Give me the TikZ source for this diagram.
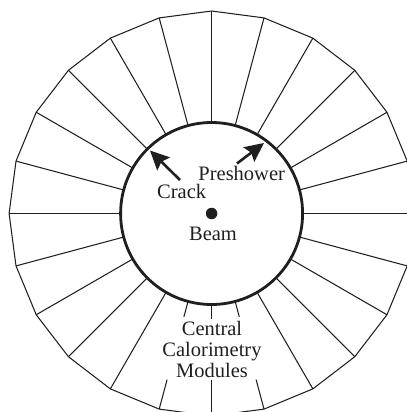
\documentclass[tikz,border=0pt]{standalone}
\usepackage{fontspec}
\setmainfont{Liberation Serif}
\usetikzlibrary{calc,arrows.meta}
\definecolor{ink}{gray}{0.12}
\tikzset{
  module/.style={draw=ink,line width=1.05bp,line join=miter},
  bore/.style={draw=ink,line width=2.8bp},
  pointer/.style={draw=ink,line width=2.6bp,-{Stealth[length=19bp,width=18bp,inset=3bp,fill=ink]}},
  lbl/.style={inner sep=0pt,outer sep=0pt,text=ink,font=\fontsize{20.5bp}{21bp}\selectfont,anchor=base},
  dot/.style={circle,fill=ink,minimum size=11.5bp,inner sep=0pt,outer sep=0pt}
}
\begin{document}
\begin{tikzpicture}[x=1bp,y=1bp]
\useasboundingbox (0,-412) rectangle (407,0);
\clip (0,-412) rectangle (407,0);
\coordinate (c) at (211.6,-213.5);
% outer polygon and radial module boundaries
\foreach \a [evaluate=\a as \b using int(\a+15)] in {0,15,...,345}{
  \coordinate (o\a) at ($(c)+(\a:202.5)$);
  \coordinate (o\b) at ($(c)+(\b:202.5)$);
  \draw[module] (o\a) -- (o\b);
}
\foreach \a in {0,15,...,345}{
  \ifnum\a=255\relax\else\ifnum\a=270\relax\else\ifnum\a=285\relax\else
    \coordinate (i\a) at ($(c)+(\a:91)$);
    \draw[module] (i\a) -- (o\a);
  \fi\fi\fi
}
% bottom modules: interrupted by the label
\foreach \a/\ra/\rb in {255/107/172,270/105/166,285/107/172}{
  \coordinate (i\a) at ($(c)+(\a:91)$);
  \coordinate (m\a) at ($(c)+(\a:\ra)$);
  \coordinate (n\a) at ($(c)+(\a:\rb)$);
  \draw[module] (i\a) -- (m\a);
  \draw[module] (n\a) -- (o\a);
}
\node[bore,circle,minimum size=182bp,inner sep=0pt,outer sep=0pt,fill=none] (ring) at (c) {};
\node[dot] (beam) at (c) {};
\node[lbl] (crack) at (181.7,-198) {Crack};
\node[lbl] (pre) at (241.7,-180.7) {Preshower};
\node[lbl] (beamlbl) at (213,-240) {Beam};
\node[lbl,align=center,anchor=center] (cal) at (212,-349) {Central\\Calorimetry\\Modules};
\coordinate (a1) at (180,-180);
\coordinate (a2) at (150,-150.5);
\coordinate (b1) at (237,-163.5);
\coordinate (b2) at (264,-143);
\draw[pointer] (a1) -- (a2);
\draw[pointer] (b1) -- (b2);
\end{tikzpicture}
\end{document}
